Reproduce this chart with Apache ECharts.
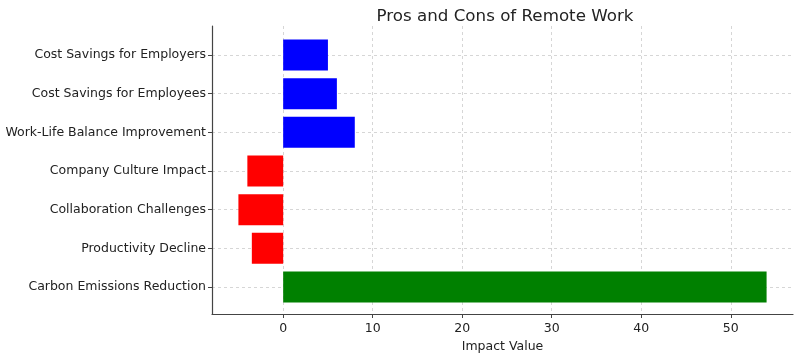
<!DOCTYPE html>
<html>
<head>
<meta charset="utf-8">
<script src="https://cdn.jsdelivr.net/npm/echarts@6/dist/echarts.min.js"></script>
<style>html,body{margin:0;padding:0;background:#fff}#c{width:800px;height:355px}</style>
</head>
<body>
<div id="c"></div>
<script>
// Data (bottom to top, as drawn)
const categories = [
  'Carbon Emissions Reduction',
  'Productivity Decline',
  'Collaboration Challenges',
  'Company Culture Impact',
  'Work-Life Balance Improvement',
  'Cost Savings for Employees',
  'Cost Savings for Employers'
];
const impactValues = [54, -3.5, -5, -4, 8, 6, 5];
const groups = ['environment', 'con', 'con', 'con', 'pro', 'pro', 'pro'];
const xTicks = [0, 10, 20, 30, 40, 50];
const titleText = 'Pros and Cons of Remote Work';
const xName = 'Impact Value';

const groupColor = { pro: '#0000ff', con: '#ff0000', environment: '#008000' };
const FONT = 'DejaVu Sans';
const xMin = -7.95, xMax = 56.95;

const chart = echarts.init(document.getElementById('c'), null, { renderer: 'canvas' });
chart.setOption({
  animation: false,
  backgroundColor: '#fff',
  title: {
    text: titleText, left: 500, top: 3, textAlign: 'center',
    textStyle: { fontFamily: FONT, fontSize: 16.7, fontWeight: 'normal', color: '#222' }
  },
  grid: [
    { left: 212, right: 7, top: 55, bottom: 68, outerBoundsMode: 'none', containLabel: false },
    { left: 212, right: 7, top: 26, bottom: 41, outerBoundsMode: 'none', containLabel: false }
  ],
  xAxis: [
    { gridIndex: 0, type: 'value', min: xMin, max: xMax, show: false },
    {
      gridIndex: 1, type: 'value', min: xMin, max: xMax,
      name: xName, nameLocation: 'middle', nameGap: 26,
      nameTextStyle: { fontFamily: FONT, fontSize: 12.5, color: '#222' },
      axisLine: { show: true, onZero: false, lineStyle: { color: '#444', width: 1.2 } },
      axisTick: { show: true, length: 4, lineStyle: { color: '#444' }, customValues: xTicks },
      axisLabel: { fontFamily: FONT, fontSize: 12.5, color: '#222', margin: 8, customValues: xTicks },
      splitLine: { show: true, lineStyle: { color: '#cccccc', type: [3, 3], width: 0.8 } }
    }
  ],
  yAxis: [
    {
      gridIndex: 0, type: 'category', data: categories, boundaryGap: false,
      axisLine: { show: false, onZero: false },
      axisTick: { show: true, length: 4, lineStyle: { color: '#444' } },
      axisLabel: { fontFamily: FONT, fontSize: 12.5, color: '#222', margin: 6 },
      splitLine: { show: true, lineStyle: { color: '#cccccc', type: [3, 3], width: 0.8 } }
    },
    {
      gridIndex: 1, type: 'value', min: 0, max: 1,
      axisLine: { show: true, onZero: false, lineStyle: { color: '#444', width: 1.2 } },
      axisTick: { show: false }, axisLabel: { show: false }, splitLine: { show: false }
    }
  ],
  series: [{
    type: 'bar', xAxisIndex: 0, yAxisIndex: 0, clip: false,
    barWidth: 31,
    data: impactValues.map((v, i) => ({ value: v, itemStyle: { color: groupColor[groups[i]] } }))
  }]
});
</script>
</body>
</html>
